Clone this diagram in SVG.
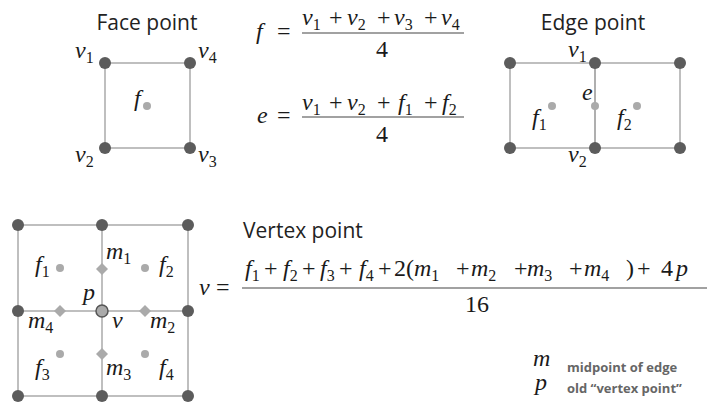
<svg xmlns="http://www.w3.org/2000/svg" width="720" height="413" viewBox="0 0 720 413">
<style>
.math{font-size:24px;fill:#1a1a1a}
.it{font-style:italic}
.sb{font-size:16px;font-style:normal}
.ln{stroke:#aaa;stroke-width:1.5;fill:none}
.bar{stroke:#444;stroke-width:1.2}
.vx{fill:#5c5c5c}
.fc{fill:#aaa}
</style>
<defs>
<circle id="vd" r="6" class="vx"/>
<circle id="fd" r="4" class="fc"/>
<path id="dm" d="M0,-6 L6,0 L0,6 L-6,0 Z" class="fc"/>
</defs>
<g id="connectors">
<rect class="ln" x="105" y="63" width="85" height="85"/>
<rect class="ln" x="510" y="63" width="85" height="85"/>
<rect class="ln" x="595" y="63" width="85" height="85"/>
<rect class="ln" x="18" y="225" width="170" height="171"/>
<line class="ln" x1="102" y1="225" x2="102" y2="396"/>
<line class="ln" x1="18" y1="311" x2="188" y2="311"/>
<line class="bar" x1="302" y1="33" x2="464" y2="33"/>
<line class="bar" x1="302" y1="117" x2="464" y2="117"/>
<line class="bar" x1="242" y1="288" x2="707" y2="288"/>
</g>
<g id="titles" style="font-family:'Open Sans',sans-serif;font-size:21px;fill:#222">
<text x="147" y="30" text-anchor="middle">Face point</text>
<text x="593" y="30" text-anchor="middle">Edge point</text>
<text x="243" y="238">Vertex point</text>
</g>
<g id="face-point">
<use href="#vd" x="105" y="63"/><use href="#vd" x="190" y="63"/>
<use href="#vd" x="105" y="148"/><use href="#vd" x="190" y="148"/>
<use href="#fd" x="147" y="106"/>
<text class="math" style="font-family:'Times New Roman',serif"><tspan class="it" x="75" y="58">v</tspan><tspan class="sb" dy="5">1</tspan></text>
<text class="math" style="font-family:'Times New Roman',serif"><tspan class="it" x="198" y="58">v</tspan><tspan class="sb" dy="5">4</tspan></text>
<text class="math" style="font-family:'Times New Roman',serif"><tspan class="it" x="75" y="162">v</tspan><tspan class="sb" dy="5">2</tspan></text>
<text class="math" style="font-family:'Times New Roman',serif"><tspan class="it" x="198" y="162">v</tspan><tspan class="sb" dy="5">3</tspan></text>
<text class="math it" style="font-family:'Times New Roman',serif" x="134" y="106">f</text>
</g>
<g id="edge-point">
<use href="#vd" x="510" y="63"/><use href="#vd" x="595" y="63"/><use href="#vd" x="680" y="63"/>
<use href="#vd" x="510" y="148"/><use href="#vd" x="595" y="148"/><use href="#vd" x="680" y="148"/>
<use href="#fd" x="552" y="106"/><use href="#fd" x="637" y="106"/><use href="#fd" x="595" y="106"/>
<text class="math" style="font-family:'Times New Roman',serif"><tspan class="it" x="568" y="57">v</tspan><tspan class="sb" dy="5">1</tspan></text>
<text class="math" style="font-family:'Times New Roman',serif"><tspan class="it" x="568" y="162">v</tspan><tspan class="sb" dy="5">2</tspan></text>
<text class="math it" style="font-family:'Times New Roman',serif" x="582" y="100">e</text>
<text class="math" style="font-family:'Times New Roman',serif"><tspan class="it" x="532" y="125">f</tspan><tspan class="sb" dy="5">1</tspan></text>
<text class="math" style="font-family:'Times New Roman',serif"><tspan class="it" x="617" y="125">f</tspan><tspan class="sb" dy="5">2</tspan></text>
</g>
<g id="eq-face">
<text class="math" style="font-family:'Times New Roman',serif"><tspan class="it" x="256" y="39">f</tspan><tspan x="277">=</tspan></text>
<text class="math" style="font-family:'Times New Roman',serif" y="25"><tspan class="it" x="302">v</tspan><tspan class="sb" dy="5">1</tspan><tspan x="329" dy="-5">+</tspan><tspan class="it" x="347">v</tspan><tspan class="sb" dy="5">2</tspan><tspan x="377" dy="-5">+</tspan><tspan class="it" x="394">v</tspan><tspan class="sb" dy="5">3</tspan><tspan x="424" dy="-5">+</tspan><tspan class="it" x="441">v</tspan><tspan class="sb" dy="5">4</tspan></text>
<text class="math" style="font-family:'Times New Roman',serif" x="382" y="57" text-anchor="middle">4</text>
</g>
<g id="eq-edge">
<text class="math" style="font-family:'Times New Roman',serif"><tspan class="it" x="257" y="123">e</tspan><tspan x="277">=</tspan></text>
<text class="math" style="font-family:'Times New Roman',serif" y="110"><tspan class="it" x="302">v</tspan><tspan class="sb" dy="5">1</tspan><tspan x="329" dy="-5">+</tspan><tspan class="it" x="347">v</tspan><tspan class="sb" dy="5">2</tspan><tspan x="377" dy="-5">+</tspan><tspan class="it" x="398">f</tspan><tspan class="sb" dy="5">1</tspan><tspan x="424" dy="-5">+</tspan><tspan class="it" x="442">f</tspan><tspan class="sb" dy="5">2</tspan></text>
<text class="math" style="font-family:'Times New Roman',serif" x="382" y="142" text-anchor="middle">4</text>
</g>
<g id="vertex-point">
<use href="#vd" x="18" y="225"/><use href="#vd" x="102" y="225"/><use href="#vd" x="188" y="225"/>
<use href="#vd" x="18" y="311"/><use href="#vd" x="188" y="311"/>
<use href="#vd" x="18" y="396"/><use href="#vd" x="102" y="396"/><use href="#vd" x="188" y="396"/>
<use href="#fd" x="60" y="268"/><use href="#fd" x="145" y="268"/>
<use href="#fd" x="60" y="354"/><use href="#fd" x="145" y="354"/>
<use href="#dm" x="102" y="269"/><use href="#dm" x="145" y="311"/>
<use href="#dm" x="102" y="354"/><use href="#dm" x="60" y="311"/>
<circle cx="102" cy="311" r="6" fill="#aaa" stroke="#555" stroke-width="1.5"/>
<text class="math" style="font-family:'Times New Roman',serif"><tspan class="it" x="35" y="272">f</tspan><tspan class="sb" dy="5">1</tspan></text>
<text class="math" style="font-family:'Times New Roman',serif"><tspan class="it" x="159" y="272">f</tspan><tspan class="sb" dy="5">2</tspan></text>
<text class="math" style="font-family:'Times New Roman',serif"><tspan class="it" x="35" y="375">f</tspan><tspan class="sb" dy="5">3</tspan></text>
<text class="math" style="font-family:'Times New Roman',serif"><tspan class="it" x="159" y="375">f</tspan><tspan class="sb" dy="5">4</tspan></text>
<text class="math" style="font-family:'Times New Roman',serif"><tspan class="it" x="106" y="259">m</tspan><tspan class="sb" dy="5">1</tspan></text>
<text class="math" style="font-family:'Times New Roman',serif"><tspan class="it" x="150" y="328">m</tspan><tspan class="sb" dy="5">2</tspan></text>
<text class="math" style="font-family:'Times New Roman',serif"><tspan class="it" x="106" y="375">m</tspan><tspan class="sb" dy="5">3</tspan></text>
<text class="math" style="font-family:'Times New Roman',serif"><tspan class="it" x="28" y="328">m</tspan><tspan class="sb" dy="5">4</tspan></text>
<text class="math it" style="font-family:'Times New Roman',serif" x="83" y="300">p</text>
<text class="math it" style="font-family:'Times New Roman',serif" x="112" y="328">v</text>
</g>
<g id="eq-vertex">
<text class="math" style="font-family:'Times New Roman',serif" y="295"><tspan class="it" x="199">v</tspan><tspan x="216">=</tspan></text>
<text class="math" style="font-family:'Times New Roman',serif" y="276"><tspan class="it" x="245">f</tspan><tspan class="sb" dy="5">1</tspan><tspan x="264" dy="-5">+</tspan><tspan class="it" x="283">f</tspan><tspan class="sb" dy="5">2</tspan><tspan x="302" dy="-5">+</tspan><tspan class="it" x="320">f</tspan><tspan class="sb" dy="5">3</tspan><tspan x="339" dy="-5">+</tspan><tspan class="it" x="359">f</tspan><tspan class="sb" dy="5">4</tspan><tspan x="378" dy="-5">+</tspan><tspan x="394">2(</tspan><tspan class="it" x="414">m</tspan><tspan class="sb" dy="5">1</tspan><tspan x="456" dy="-5">+</tspan><tspan class="it" x="471">m</tspan><tspan class="sb" dy="5">2</tspan><tspan x="514" dy="-5">+</tspan><tspan class="it" x="527">m</tspan><tspan class="sb" dy="5">3</tspan><tspan x="569" dy="-5">+</tspan><tspan class="it" x="584">m</tspan><tspan class="sb" dy="5">4</tspan><tspan x="626" dy="-5">)</tspan><tspan x="637">+</tspan><tspan x="661">4</tspan><tspan class="it" x="676">p</tspan></text>
<text class="math" style="font-family:'Times New Roman',serif" x="477" y="312" text-anchor="middle">16</text>
</g>
<g id="legend">
<text class="math it" style="font-family:'Times New Roman',serif" x="533" y="366">m</text>
<text class="math it" style="font-family:'Times New Roman',serif" x="535" y="390">p</text>
<text x="567" y="372" style="font-family:'Open Sans',sans-serif;font-size:13px;font-weight:bold;fill:#666">midpoint of edge</text>
<text x="567" y="393" style="font-family:'Open Sans',sans-serif;font-size:13px;font-weight:bold;fill:#666">old “vertex point”</text>
</g>
</svg>
